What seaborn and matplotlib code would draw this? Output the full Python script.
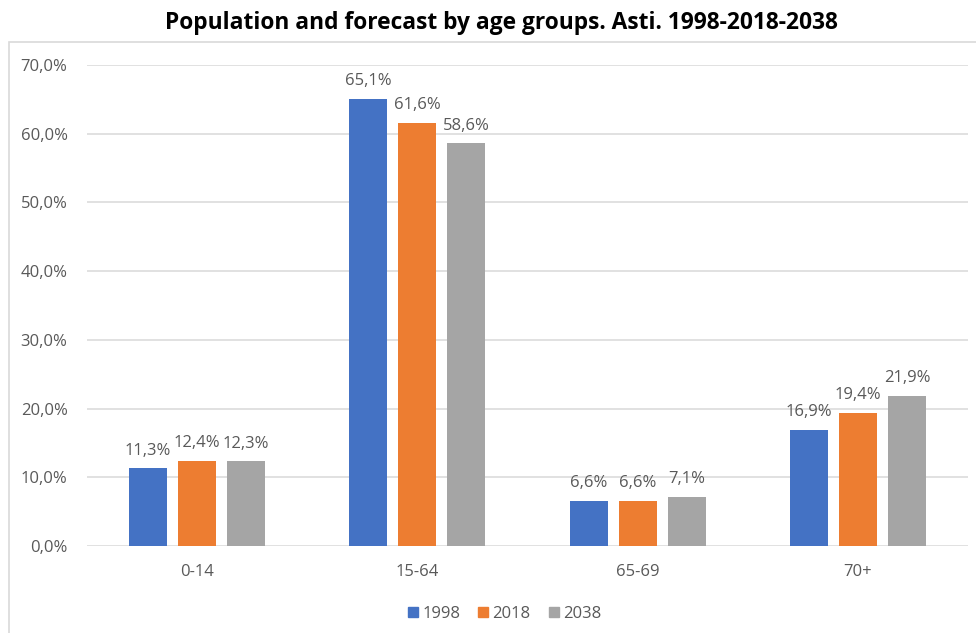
import matplotlib
matplotlib.use("Agg")
import matplotlib.pyplot as plt
from matplotlib.patches import Rectangle
from matplotlib.lines import Line2D
import seaborn as sns
import pandas as pd

# Age groups, years and population shares (%)
age_groups = ["0-14", "15-64", "65-69", "70+"]
years = ["1998", "2018", "2038"]
share_1998 = [11.3, 65.1, 6.6, 16.9]
share_2018 = [12.4, 61.6, 6.6, 19.4]
share_2038 = [12.3, 58.6, 7.1, 21.9]
y_ticks = [0, 10, 20, 30, 40, 50, 60, 70]

colors = ["#4472C4", "#ED7D31", "#A5A5A5"]

df = pd.DataFrame({
    "age": age_groups * 3,
    "year": [y for y in years for _ in age_groups],
    "share": share_1998 + share_2018 + share_2038,
})

sns.set_theme(style="white")
plt.rcParams["font.family"] = ["Open Sans", "DejaVu Sans"]

fig = plt.figure(figsize=(9.76, 6.33), dpi=100)
ax = fig.add_axes([87 / 976, 1 - 546 / 633, (968 - 87) / 976, (546 - 65) / 633])

# outer chart frame
fig.patches.append(Rectangle((8.5 / 976, -0.01), 1.0, 1 - 42 / 633 + 0.01,
                             transform=fig.transFigure, fill=False,
                             edgecolor="#D9D9D9", linewidth=1.2, zorder=0))

sns.barplot(data=df, x="age", y="share", hue="year", order=age_groups,
            hue_order=years, palette=colors, width=0.668, gap=0.224,
            saturation=1, linewidth=0, ax=ax, legend=False, zorder=3)

label_color = "#595959"
fs = 12
for container in ax.containers:
    labels = [f"{v:.1f}%".replace(".", ",") for v in container.datavalues]
    ax.bar_label(container, labels=labels, padding=7, fontsize=fs,
                 color=label_color)

ax.set_ylim(0, 70)
ax.set_xlim(-0.5, 3.5)
ax.set_yticks(y_ticks)
ax.set_yticklabels([f"{t:.1f}%".replace(".", ",") for t in y_ticks])
ax.yaxis.grid(True, color="#D9D9D9", linewidth=1.1, zorder=0)
ax.set_axisbelow(True)
for s in ax.spines.values():
    s.set_visible(False)
ax.tick_params(axis="both", length=0, labelsize=fs, labelcolor=label_color)
ax.tick_params(axis="y", pad=14)
ax.tick_params(axis="x", pad=13)
ax.set_xlabel("")
ax.set_ylabel("")

fig.text(501 / 976, 1 - 23 / 633, "Population and forecast by age groups. Asti. 1998-2018-2038",
         ha="center", va="center", fontsize=16.4, fontweight="bold",
         color="#000000")

handles = [Line2D([], [], marker="s", linestyle="", markersize=7.5,
                  markerfacecolor=c, markeredgecolor=c) for c in colors]
fig.legend(handles, years, loc="center", bbox_to_anchor=(503 / 976, 1 - 614 / 633),
           ncol=3, frameon=False, fontsize=fs, labelcolor=label_color,
           handletextpad=0.05, columnspacing=0.9, handlelength=1.0)

fig.savefig("out.png", dpi=100)
